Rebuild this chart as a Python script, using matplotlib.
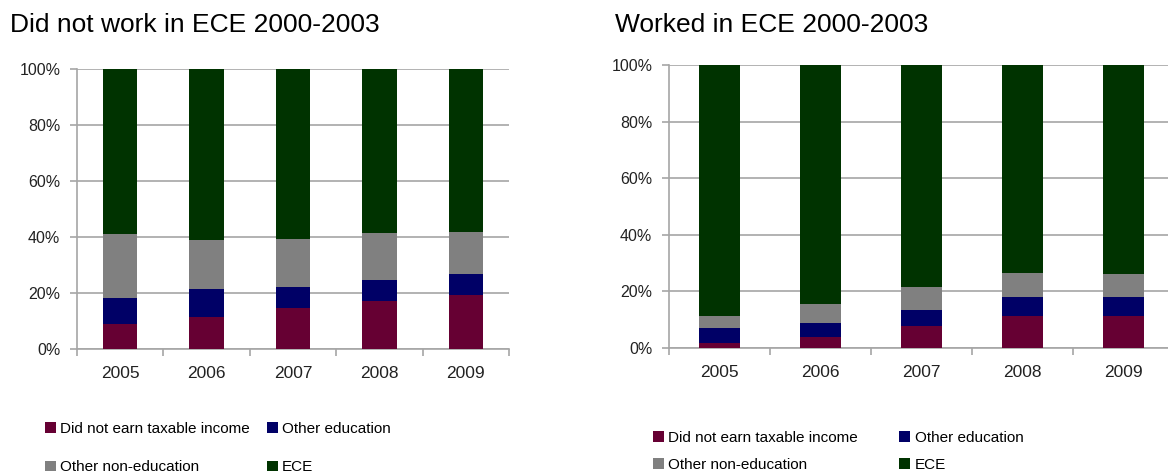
import numpy as np
import matplotlib.pyplot as plt
from matplotlib.patches import Patch

plt.rcParams['font.family'] = ['Liberation Sans', 'DejaVu Sans']

years = ['2005', '2006', '2007', '2008', '2009']
series = ['Did not earn taxable income', 'Other education', 'Other non-education', 'ECE']
colors = ['#660033', '#000066', '#808080', '#003300']

# shares (%) - did not work in ECE 2000-2003
left_no_income = [9.0, 11.3, 14.8, 17.3, 19.4]
left_other_edu = [9.2, 10.2, 7.2, 7.5, 7.4]
left_other_non = [22.8, 17.3, 17.2, 16.6, 15.0]
left_ece = [59.0, 61.2, 60.8, 58.6, 58.2]

# shares (%) - worked in ECE 2000-2003
right_no_income = [1.9, 4.0, 7.9, 11.2, 11.2]
right_other_edu = [5.0, 4.7, 5.5, 6.8, 6.8]
right_other_non = [4.3, 6.7, 8.0, 8.5, 8.1]
right_ece = [88.8, 84.6, 78.6, 73.5, 73.9]

W, H = 1168, 474
fig = plt.figure(figsize=(W / 100, H / 100), dpi=100)


def px_axes(x0, y0, x1, y1):
    return fig.add_axes([x0 / W, 1 - y1 / H, (x1 - x0) / W, (y1 - y0) / H])


def draw_panel(ax, data):
    x = np.arange(len(years))
    bottom = np.zeros(len(years))
    for vals, c in zip(data, colors):
        ax.bar(x, vals, 0.4, bottom=bottom, color=c, zorder=3)
        bottom += np.array(vals)
    ax.set_xlim(-0.5, len(years) - 0.5)
    ax.set_ylim(0, 100)
    ax.set_yticks(np.arange(0, 101, 20))
    ax.set_yticklabels([f'{v}%' for v in range(0, 101, 20)])
    ax.set_xticks(x)
    ax.set_xticklabels(years)
    ax.set_xticks(np.arange(-0.5, len(years), 1), minor=True)
    ax.grid(axis='y', color='#a6a6a6', linewidth=1.2, zorder=0)
    for s in ['top', 'right']:
        ax.spines[s].set_visible(False)
    for s in ['left', 'bottom']:
        ax.spines[s].set_color('#a6a6a6')
        ax.spines[s].set_linewidth(1.2)
    ax.tick_params(axis='x', which='major', length=0, pad=12, labelsize=12.5, colors='#222222')
    ax.tick_params(axis='x', which='minor', length=5, width=1.2, color='#a6a6a6')
    ax.tick_params(axis='y', length=5, width=1.2, color='#a6a6a6', pad=7, labelsize=11.5, labelcolor='#222222')


ax1 = px_axes(77, 69, 509, 349)
draw_panel(ax1, [left_no_income, left_other_edu, left_other_non, left_ece])
ax2 = px_axes(669, 65, 1174, 348)
draw_panel(ax2, [right_no_income, right_other_edu, right_other_non, right_ece])

fig.text(10 / W, 1 - 25 / H, 'Did not work in ECE 2000-2003', fontsize=19, va='center', ha='left')
fig.text(615 / W, 1 - 25 / H, 'Worked in ECE 2000-2003', fontsize=19, va='center', ha='left')

handles = [Patch(facecolor=c) for c in colors]
order = [0, 2, 1, 3]  # matplotlib fills columns first
fig.legend([handles[i] for i in order], [series[i] for i in order], ncol=2,
           loc='upper left', bbox_to_anchor=(45 / W, 1 - 422 / H), frameon=False,
           fontsize=11, handlelength=0.7, handleheight=0.7, handletextpad=0.3,
           columnspacing=1.1, labelspacing=1.6, borderpad=0, borderaxespad=0)
fig.legend([handles[i] for i in order], [series[i] for i in order], ncol=2,
           loc='upper left', bbox_to_anchor=(653 / W, 1 - 431 / H), frameon=False,
           fontsize=11, handlelength=0.7, handleheight=0.7, handletextpad=0.3,
           columnspacing=2.7, labelspacing=0.85, borderpad=0, borderaxespad=0)

fig.savefig('out.png', dpi=100)
